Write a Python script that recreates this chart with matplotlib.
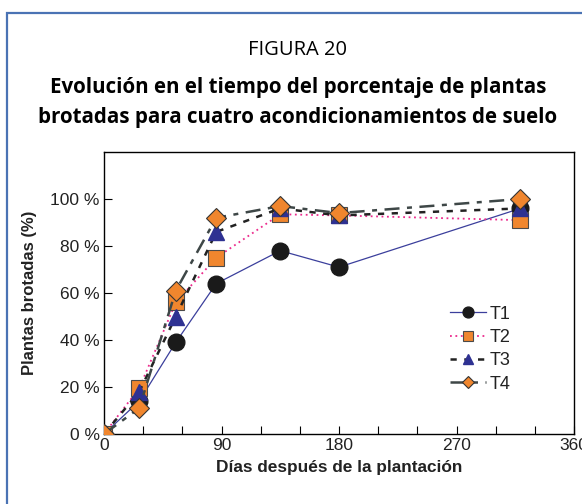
import matplotlib.pyplot as plt
from matplotlib.patches import Rectangle
from matplotlib.ticker import MultipleLocator

dias = [0, 27, 55, 86, 135, 180, 319]
t1 = [0, 14, 39, 64, 78, 71, 96]
t2 = [0, 19.5, 56, 75, 93.5, 93, 91]
t3 = [0, 18, 50, 86, 96, 93, 96]
t4 = [0, 11, 61, 92, 97, 94, 100]

fig = plt.figure(figsize=(5.82, 5.04), dpi=100)

# blue frame of the figure panel
fig.patches.append(Rectangle((7 / 582, -0.1), 1.0, 1 - 13 / 504 + 0.1,
                             transform=fig.transFigure, fill=False,
                             edgecolor='#4a73b4', linewidth=1.6))

fig.text(0.512, 1 - 50 / 504, 'FIGURA 20', ha='center', va='center',
         fontsize=14.5, family='Open Sans')
fig.text(0.512, 1 - 88 / 504, 'Evolución en el tiempo del porcentaje de plantas',
         ha='center', va='center', fontsize=14.8, fontweight='bold',
         family='Open Sans')
fig.text(0.512, 1 - 118 / 504, 'brotadas para cuatro acondicionamientos de suelo',
         ha='center', va='center', fontsize=14.8, fontweight='bold',
         family='Open Sans')

ax = fig.add_axes([104 / 582, 1 - 434 / 504, 470 / 582, 282 / 504])

ax.plot(dias, t1, color='#3b3f9c', lw=0.9, marker='o', ms=12,
        mfc='#1a1a1a', mec='#1a1a1a', label='T1', zorder=3)
ax.plot(dias, t2, color='#ec2a8c', lw=1.3, ls=(0, (1, 2)), marker='s', ms=12,
        mfc='#f0862e', mec='#4a4a4a', mew=0.8, label='T2', zorder=4)
ax.plot(dias, t3, color='#222222', lw=1.8, ls=(0, (2.5, 3)), marker='^', ms=12,
        mfc='#2e3192', mec='#2e3192', label='T3', zorder=5)
ax.plot(dias, t4, color='#3e4747', lw=1.8, ls=(0, (6, 3, 2, 3)), marker='D',
        ms=10, mfc='#f0862e', mec='#333333', mew=0.8, label='T4', zorder=6)

ax.set_xlim(0, 360)
ax.set_ylim(0, 120)
ax.xaxis.set_major_locator(MultipleLocator(90))
ax.xaxis.set_minor_locator(MultipleLocator(30))
ax.set_yticks([0, 20, 40, 60, 80, 100])
ax.set_yticklabels(['0 %', '20 %', '40 %', '60 %', '80 %', '100 %'])
ax.tick_params(which='both', direction='in', length=6, width=0.8,
               labelsize=12.5, pad=3, labelcolor='#222222')
for lbl in ax.get_xticklabels() + ax.get_yticklabels():
    lbl.set_family('Liberation Sans')
for s in ax.spines.values():
    s.set_linewidth(1.0)

ax.set_xlabel('Días después de la plantación', fontsize=12.4,
              fontweight='bold', family='Liberation Sans', labelpad=5,
              color='#222222')
ax.set_ylabel('Plantas brotadas (%)', fontsize=12, fontweight='bold',
              family='Liberation Sans', labelpad=10, color='#222222')

leg = ax.legend(loc='upper left', bbox_to_anchor=(0.71, 0.5), frameon=False,
                handlelength=2.0, labelspacing=0.35, markerscale=0.65,
                handletextpad=0.2, borderpad=0.2,
                prop={'family': 'Liberation Sans', 'size': 13})
for t in leg.get_texts():
    t.set_color('#222222')

fig.savefig('out.png', dpi=100)
